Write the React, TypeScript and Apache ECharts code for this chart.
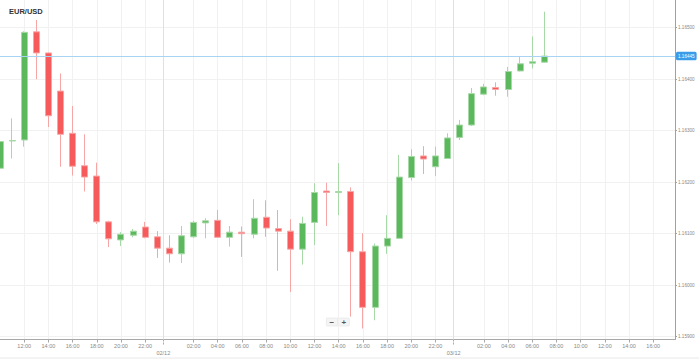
import { useEffect, useRef } from 'react';
import * as echarts from 'echarts';

const chartTitle = 'EUR/USD';
// hours counted from 00:00 on 01/12; one candle per hour
const firstHour = 10;
const dayLabels = ['01/12', '02/12', '03/12'];

const open = [
  1.16227, 1.1628, 1.16282, 1.16492, 1.16451, 1.16377, 1.16295, 1.16232, 1.16212, 1.16123,
  1.16088, 1.16097, 1.16113, 1.16094, 1.16072, 1.16061, 1.16094, 1.16121, 1.16126, 1.16093,
  1.16103, 1.16099, 1.16132, 1.1611, 1.16105, 1.1607, 1.16122, 1.16183, 1.1618, 1.16182,
  1.16065, 1.15957, 1.16076, 1.16091, 1.16209, 1.16251, 1.1623, 1.16246, 1.16287, 1.16311,
  1.16371, 1.16384, 1.1638, 1.16416, 1.16431, 1.16433,
];
const close = [
  1.16279, 1.16281, 1.16491, 1.16451, 1.16329, 1.16293, 1.16231, 1.1621, 1.16123, 1.1609,
  1.16099, 1.16105, 1.16093, 1.16072, 1.16061, 1.16096, 1.16122, 1.16125, 1.16093, 1.16103,
  1.161, 1.1613, 1.16111, 1.16105, 1.1607, 1.1612, 1.1618, 1.1618, 1.16182, 1.16065,
  1.15957, 1.16076, 1.16091, 1.1621, 1.1625, 1.16245, 1.16251, 1.16286, 1.16311, 1.16372,
  1.16385, 1.1638, 1.16415, 1.1643, 1.16434, 1.16445,
];
const low = [
  1.16195, 1.16246, 1.16269, 1.164, 1.16307, 1.1623, 1.16213, 1.16182, 1.16119, 1.16074,
  1.16076, 1.16093, 1.16091, 1.16053, 1.16044, 1.16043, 1.16092, 1.16091, 1.16092, 1.16075,
  1.16055, 1.16091, 1.16094, 1.16028, 1.15987, 1.1604, 1.16078, 1.16115, 1.16136, 1.15939,
  1.15916, 1.15932, 1.16061, 1.1609, 1.16203, 1.16216, 1.16212, 1.16245, 1.16282, 1.16309,
  1.16369, 1.16368, 1.16366, 1.16415, 1.16421, 1.16432,
];
const high = [
  1.16288, 1.16324, 1.16493, 1.16515, 1.16452, 1.16411, 1.16348, 1.16293, 1.16238, 1.16125,
  1.16103, 1.16109, 1.16123, 1.16105, 1.16097, 1.16115, 1.16125, 1.1613, 1.16146, 1.16115,
  1.16114, 1.16167, 1.16165, 1.16146, 1.16128, 1.16133, 1.16198, 1.16199, 1.16237, 1.1619,
  1.16101, 1.16081, 1.16136, 1.16253, 1.16264, 1.1627, 1.16269, 1.16295, 1.16321, 1.16383,
  1.16391, 1.16394, 1.16424, 1.16443, 1.16483, 1.16531,
];
const currentPrice = 1.16445;
const yTicks = [1.159, 1.16, 1.161, 1.162, 1.163, 1.164, 1.165];
const yMin = 1.158946;
const yMax = 1.165538;
const xMin = 10;
const xMax = 65.8;
// day boundaries (between the 23:00 and 00:00 candles)
const daySeparators = [23.5, 47.5];

const FONT = '"Liberation Sans", Arial, sans-serif';

export default function App() {
  const ref = useRef<HTMLDivElement>(null);
  useEffect(() => {
    if (!ref.current) return;
    const chart = echarts.init(ref.current, undefined, { renderer: 'svg' });

    const candles = open.map((o, i) => [firstHour + i, o, close[i], low[i], high[i]]);
    const hourTicks: number[] = [];
    for (let h = Math.floor(xMin / 2) * 2 + 2; h <= xMax; h += 2) {
      if (h % 24 !== 0) hourTicks.push(h);
    }

    chart.setOption({
      animation: false,
      backgroundColor: '#ffffff',
      title: {
        text: chartTitle,
        left: 9,
        top: 7,
        padding: 0,
        textStyle: { fontSize: 7.5, fontWeight: 'bold', color: '#333333', fontFamily: FONT },
      },
      grid: {
        left: 0,
        right: 24,
        top: 0,
        bottom: 19.5,
        containLabel: false,
        outerBoundsMode: 'none',
      },
      xAxis: [
        {
          type: 'value',
          min: xMin,
          max: xMax,
          interval: 2,
          position: 'bottom',
          axisLine: { show: true, lineStyle: { color: '#a8a8a8', width: 1 } },
          axisTick: { show: true, length: 3, customValues: hourTicks, lineStyle: { color: '#a8a8a8' } },
          axisLabel: {
            customValues: hourTicks,
            margin: 3,
            fontSize: 5.5,
            color: '#888888',
            fontFamily: FONT,
            formatter: (v: number) => {
              const h = Math.round(v) % 24;
              return (h < 10 ? '0' : '') + h + ':00';
            },
          },
          splitLine: { show: true, customValues: hourTicks, lineStyle: { color: '#f1f1f1', width: 1 } },
        },
        {
          type: 'value',
          min: xMin,
          max: xMax,
          position: 'bottom',
          axisLine: { show: false },
          axisTick: {
            show: true,
            length: 6,
            customValues: daySeparators,
            lineStyle: { color: '#a8a8a8', type: [2, 1] },
          },
          axisLabel: {
            customValues: daySeparators,
            margin: 10,
            fontSize: 5.5,
            color: '#888888',
            fontFamily: FONT,
            formatter: (v: number) => dayLabels[Math.round((v + 0.5) / 24)] || '',
          },
          splitLine: { show: false },
        },
      ],
      yAxis: {
        type: 'value',
        position: 'right',
        min: yMin,
        max: yMax,
        splitNumber: 6,
        axisLine: { show: true, lineStyle: { color: '#a0a0a0', width: 1 } },
        axisTick: { show: true, length: 2, customValues: yTicks, lineStyle: { color: '#a0a0a0' } },
        axisLabel: {
          customValues: yTicks,
          margin: 3,
          fontSize: 4.6,
          color: '#888888',
          fontFamily: FONT,
          formatter: (v: number) => v.toFixed(5),
        },
        splitLine: { show: true, customValues: yTicks, lineStyle: { color: '#f1f1f1', width: 1 } },
      },
      series: [
        {
          type: 'line',
          xAxisIndex: 0,
          yAxisIndex: 0,
          data: [],
          silent: true,
          markLine: {
            silent: true,
            precision: 5,
            symbol: ['none', 'none'],
            animation: false,
            data: [
              {
                xAxis: daySeparators[0],
                lineStyle: { color: '#e0e0e0', width: 1, type: 'solid' },
                label: { show: false },
              },
              {
                xAxis: daySeparators[1],
                lineStyle: { color: '#e0e0e0', width: 1, type: 'solid' },
                label: { show: false },
              },
              {
                yAxis: currentPrice,
                lineStyle: { color: '#a9d3f2', width: 1, type: 'solid' },
                label: {
                  show: true,
                  position: 'end',
                  distance: 1,
                  formatter: () => currentPrice.toFixed(5),
                  backgroundColor: '#3a9be8',
                  color: '#ffffff',
                  fontSize: 4.6,
                  fontFamily: FONT,
                  padding: [2, 2, 1.5, 2],
                  borderRadius: 1.5,
                },
              },
            ],
          },
        },
        {
          type: 'candlestick',
          xAxisIndex: 0,
          yAxisIndex: 0,
          data: candles,
          encode: { x: 0, y: [1, 2, 3, 4] },
          barWidth: 6.5,
          silent: true,
          itemStyle: {
            color: '#5cb85c',
            color0: '#f65a5a',
            borderColor: '#a6d9a6',
            borderColor0: '#f7a6a6',
            borderWidth: 1,
          },
        },
      ],
      graphic: [
        {
          type: 'group',
          left: 326,
          top: 316,
          children: [
            {
              type: 'rect',
              shape: { x: 0, y: 0, width: 23, height: 8, r: 1 },
              style: { fill: '#f4f4f4', stroke: '#e4e4e4', lineWidth: 0.6 },
            },
            {
              type: 'line',
              shape: { x1: 11.5, y1: 0.5, x2: 11.5, y2: 7.5 },
              style: { stroke: '#e0e0e0', lineWidth: 0.6 },
            },
            {
              type: 'text',
              x: 5.5,
              y: 4.2,
              style: { text: '−', fontSize: 8, fill: '#555555', align: 'center', verticalAlign: 'middle', fontFamily: FONT, fontWeight: 'bold' },
            },
            {
              type: 'text',
              x: 17.5,
              y: 4.2,
              style: { text: '+', fontSize: 8, fill: '#555555', align: 'center', verticalAlign: 'middle', fontFamily: FONT, fontWeight: 'bold' },
            },
          ],
        },
        {
          type: 'line',
          shape: { x1: 0, y1: 358, x2: 699, y2: 358 },
          style: { stroke: '#e8e8e8', lineWidth: 1 },
        },
      ],
    });
    return () => chart.dispose();
  }, []);
  return (
    <div
      ref={ref}
      style={{ position: 'absolute', left: 0, top: 0, width: 699, height: 359 }}
    />
  );
}
